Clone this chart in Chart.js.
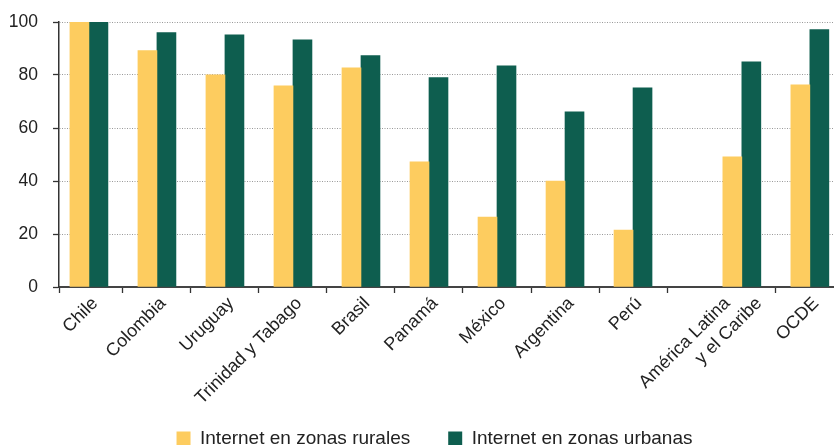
<!DOCTYPE html>
<html>
<head>
<meta charset="utf-8">
<script src="https://cdn.jsdelivr.net/npm/chart.js@4"></script>
<style>
  html, body { margin: 0; padding: 0; background: #ffffff; }
  #wrap { width: 834px; height: 445px; }
</style>
</head>
<body>
<div id="wrap"><canvas id="c" width="834" height="445"></canvas></div>
<script>
// ---- data ----
const categories = ['Chile', 'Colombia', 'Uruguay', 'Trinidad y Tabago', 'Brasil', 'Panamá', 'México', 'Argentina', 'Perú', ['América Latina', 'y el Caribe'], 'OCDE'];
const rural = [100, 89.2, 80.1, 75.9, 82.7, 47.2, 26.4, 40.0, 21.5, 49.1, 76.3];
const urban = [100, 96.0, 95.2, 93.3, 87.3, 79.0, 83.5, 66.1, 75.2, 85.0, 97.1];
const yTicks = [0, 20, 40, 60, 80, 100];
const seriesNames = ['Internet en zonas rurales', 'Internet en zonas urbanas'];

// ---- layout constants ----
const GAP_AFTER = 8;      // extra space after Perú
const GAP = 0.6;
const XMIN = -0.44, XMAX = 10.955;
const LABEL_SHIFT = 0.09;
const FONT = '"Liberation Sans", Arial, Helvetica, sans-serif';
const YELLOW = '#FDCC5F';
const GREEN = '#0E5E4F';
const LEGEND_PAD = 38;
const LEGEND_ITEM_TOP = 429;
const LEGEND_LEFT = 35;

const xPos = categories.map((c, i) => i + (i > GAP_AFTER ? GAP : 0));

// label ticks (multi-line labels split into separate ticks)
const labelTicks = [];
categories.forEach((c, i) => {
  if (Array.isArray(c)) {
    const n = c.length;
    c.forEach((line, j) => labelTicks.push({ value: xPos[i] + (j - (n - 1) / 2) * 0.47 + 0.02, text: line }));
  } else {
    labelTicks.push({ value: xPos[i] + LABEL_SHIFT, text: c });
  }
});
// boundary tick marks: axis start + right edge of each category
const boundaryTicks = [XMIN].concat(xPos.map(p => p + 0.5).filter(v => v < XMAX));

const ds = (name, vals, color) => ({
  label: name,
  data: vals.map((v, i) => ({ x: xPos[i], y: v })),
  backgroundColor: color,
  borderWidth: 0,
  barThickness: 19
});

const legendPlacer = {
  id: 'legendPlacer',
  afterLayout(chart) {
    const lg = chart.legend;
    if (!lg) return;
    const h = lg.height;
    lg.left = LEGEND_LEFT;
    lg.top = LEGEND_ITEM_TOP - LEGEND_PAD;
    lg.bottom = lg.top + h;
  }
};

new Chart(document.getElementById('c'), {
  type: 'bar',
  data: {
    datasets: [ds(seriesNames[0], rural, YELLOW), ds(seriesNames[1], urban, GREEN)]
  },
  plugins: [legendPlacer],
  options: {
    responsive: false,
    animation: false,
    devicePixelRatio: 1,
    layout: { padding: { top: 22, left: 0, right: 0, bottom: -32 } },
    plugins: {
      tooltip: { enabled: false },
      legend: {
        position: 'bottom',
        labels: {
          boxWidth: 14, boxHeight: 14, padding: LEGEND_PAD,
          color: '#222', font: { family: FONT, size: 19 }
        }
      }
    },
    scales: {
      x: {
        type: 'linear', min: XMIN, max: XMAX, offset: false, weight: 1,
        grid: { display: false, drawTicks: false, offset: false },
        border: { display: false },
        afterBuildTicks: s => { s.ticks = labelTicks.map(t => ({ value: t.value })); },
        afterFit: s => { s.height = 117; },
        ticks: {
          autoSkip: false, maxRotation: 45, minRotation: 45, padding: 0,
          color: '#222', font: { family: FONT, size: 18 },
          callback: (v, i) => labelTicks[i] ? labelTicks[i].text : ''
        }
      },
      x2: {
        type: 'linear', position: 'bottom', min: XMIN, max: XMAX, offset: false, weight: 0,
        grid: { display: true, drawOnChartArea: false, drawTicks: true, tickLength: 6, tickColor: '#333', tickWidth: 1.3, offset: false },
        border: { display: true, color: '#444', width: 2 },
        afterBuildTicks: s => { s.ticks = boundaryTicks.map(v => ({ value: v })); },
        ticks: { display: false }
      },
      y: {
        min: 0, max: 100,
        afterBuildTicks: s => { s.ticks = yTicks.map(v => ({ value: v })); },
        afterFit: s => { s.width = 59; s.paddingTop = 0; s.paddingBottom = 0; },
        grid: { color: '#999', lineWidth: 1, tickLength: 6, tickColor: '#333', tickWidth: 1.3, tickBorderDash: [10, 0] },
        border: { display: true, color: '#333', width: 1.5, dash: [1, 1.5] },
        ticks: { padding: 15, color: '#222', font: { family: FONT, size: 17.5 } }
      }
    }
  }
});
</script>
</body>
</html>
